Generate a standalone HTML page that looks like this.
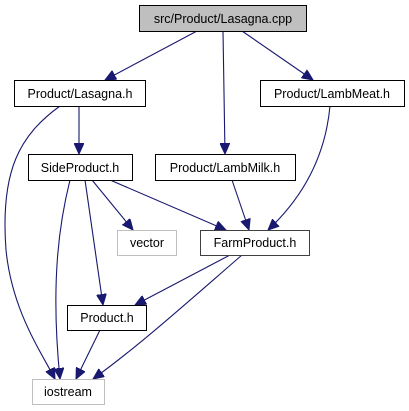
<!DOCTYPE html>
<html><head><style>body{margin:0;background:#fff}svg{display:block}text{font-family:"Liberation Sans",sans-serif;font-size:12.5px;text-anchor:middle}</style></head><body>
<svg width="409" height="411" viewBox="0 0 409 411">
<defs><marker id="a" markerWidth="12" markerHeight="10" refX="11" refY="5" orient="auto" markerUnits="userSpaceOnUse"><path d="M0,0L11,5L0,10z" fill="#191970" stroke="#191970"/></marker></defs>
<g fill="none" stroke="#191970" stroke-width="1.1" marker-end="url(#a)">
<path d="M197,31L105,80"/>
<path d="M223,31L225,154"/>
<path d="M242,31L313,80"/>
<path d="M79,106L79,154"/>
<path d="M60,106C20,135 0,170 6,250C12,310 40,350 55,379"/>
<path d="M330,106C325,160 300,200 268,230"/>
<path d="M232,180L249,230"/>
<path d="M110,180L226,230"/>
<path d="M92,180L133,230"/>
<path d="M85,180L103,305"/>
<path d="M70,180C60,220 50,280 60,379"/>
<path d="M230,255L135,305"/>
<path d="M242,255C190,300 140,345 93,379"/>
<path d="M100,330L76,379"/>
</g>
<g stroke-width="1">
<rect x="139.5" y="5.5" width="167" height="26" fill="#bfbfbf" stroke="#000"/>
<rect x="14.5" y="80.5" width="131" height="26" fill="#fff" stroke="#000"/>
<rect x="260.5" y="80.5" width="144" height="26" fill="#fff" stroke="#000"/>
<rect x="28.5" y="154.5" width="104" height="26" fill="#fff" stroke="#000"/>
<rect x="155.5" y="154.5" width="140" height="26" fill="#fff" stroke="#000"/>
<rect x="117.5" y="230.5" width="59" height="25" fill="#fff" stroke="#bfbfbf"/>
<rect x="200.5" y="230.5" width="109" height="25" fill="#fff" stroke="#404040"/>
<rect x="67.5" y="305.5" width="79" height="25" fill="#fff" stroke="#000"/>
<rect x="32.5" y="379.5" width="72" height="25" fill="#fff" stroke="#bfbfbf"/>
</g>
<text x="223" y="23">src/Product/Lasagna.cpp</text>
<text x="80" y="98">Product/Lasagna.h</text>
<text x="332" y="98">Product/LambMeat.h</text>
<text x="80" y="172">SideProduct.h</text>
<text x="225" y="172">Product/LambMilk.h</text>
<text x="147" y="247">vector</text>
<text x="255" y="247">FarmProduct.h</text>
<text x="107" y="322">Product.h</text>
<text x="68" y="396">iostream</text>
</svg>
</body></html>
